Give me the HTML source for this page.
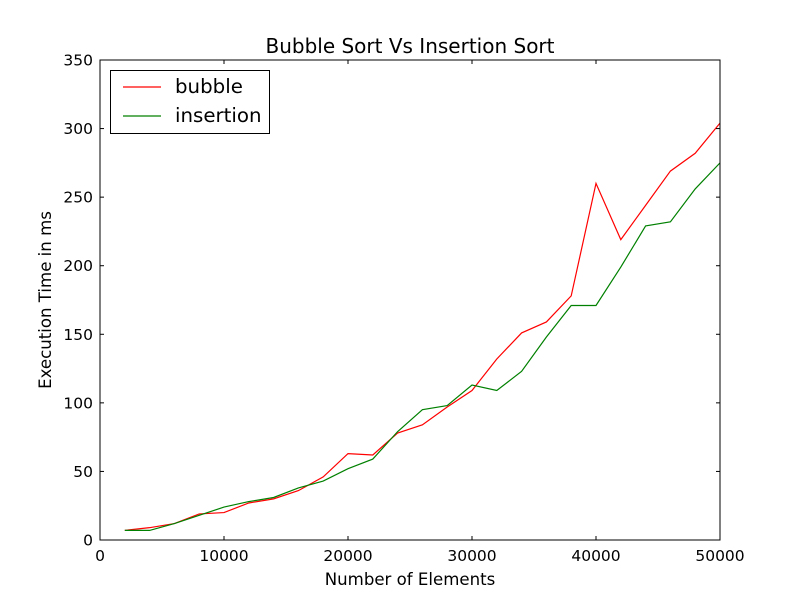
<!DOCTYPE html>
<html><head><meta charset="utf-8"><style>
body{margin:0;background:#fff;font-family:"Liberation Sans","DejaVu Sans",sans-serif}
text{font-family:"DejaVu Sans","Liberation Sans",sans-serif}
</style></head><body>
<svg id="chart" width="800" height="600" xmlns="http://www.w3.org/2000/svg">
<rect width="800" height="600" fill="#fff"/>
<g id="marks"></g>
<g id="axes"></g>
</svg>
<script>
const xs=[2000,4000,6000,8000,10000,12000,14000,16000,18000,20000,22000,24000,26000,28000,30000,32000,34000,36000,38000,40000,42000,44000,46000,48000,50000];
const bubble=[7,9,12,19,20,27,30,36,46,63,62,78,84,97,109,132,151,159,178,260,219,244,269,282,304];
const insertion=[7,7,12,18,24,28,31,38,43,52,59,79,95,98,113,109,123,148,171,171,199,229,232,256,275];
const xTicks=[0,10000,20000,30000,40000,50000];
const yTicks=[0,50,100,150,200,250,300,350];
const L=100,R=720,T=60,B=540,xMax=50000,yMax=350;
const sx=v=>L+v/xMax*(R-L), sy=v=>B-v/yMax*(B-T);
const NS="http://www.w3.org/2000/svg";
const svg=document.getElementById('chart'),marks=document.getElementById('marks'),axes=document.getElementById('axes');
function mk(tag,at,parent){const e=document.createElementNS(NS,tag);for(const k in at)e.setAttribute(k,at[k]);parent.appendChild(e);return e;}
function line(xv,yv,color,name){const p=mk('polyline',{points:xv.map((x,i)=>sx(x)+','+sy(yv[i])).join(' '),fill:'none',stroke:color,'stroke-width':1.2},marks);

}
line(xs,bubble,'#ff0000','bubble-line');
line(xs,insertion,'#008000','insertion-line');
const frame=mk('rect',{x:L,y:T,width:R-L,height:B-T,fill:'none',stroke:'#000','stroke-width':1},axes);


xTicks.forEach(v=>{const x=sx(v);
mk('line',{x1:x,x2:x,y1:B,y2:B-4,stroke:'#000'},axes);mk('line',{x1:x,x2:x,y1:T,y2:T+4,stroke:'#000'},axes);
const t=mk('text',{x:x,y:B+21,'text-anchor':'middle','font-size':15.5},axes);t.textContent=v;

});
yTicks.forEach(v=>{const y=sy(v);
mk('line',{x1:L,x2:L+4,y1:y,y2:y,stroke:'#000'},axes);mk('line',{x1:R,x2:R-4,y1:y,y2:y,stroke:'#000'},axes);
const t=mk('text',{x:L-7,y:y+5.5,'text-anchor':'end','font-size':15.5},axes);t.textContent=v;

});
</script>
<svg width="800" height="600" style="position:absolute;left:0;top:0" xmlns="http://www.w3.org/2000/svg">
<text x="410" y="53" text-anchor="middle" font-size="20">Bubble Sort Vs Insertion Sort</text>
<text x="410" y="585" text-anchor="middle" font-size="16.6">Number of Elements</text>
<text x="51" y="300" text-anchor="middle" font-size="16.6" transform="rotate(-90 51 300)">Execution Time in ms</text>
<g>
<rect x="110.5" y="70.5" width="159" height="63" fill="#fff" stroke="#000"/>
<line x1="123" x2="161" y1="87" y2="87" stroke="#ff0000" stroke-width="1.2"/>
<text x="175" y="93" font-size="19.8">bubble</text>
<line x1="123" x2="161" y1="116" y2="116" stroke="#008000" stroke-width="1.2"/>
<text x="175" y="122" font-size="19.8">insertion</text>
</g>
</svg>
</body></html>
